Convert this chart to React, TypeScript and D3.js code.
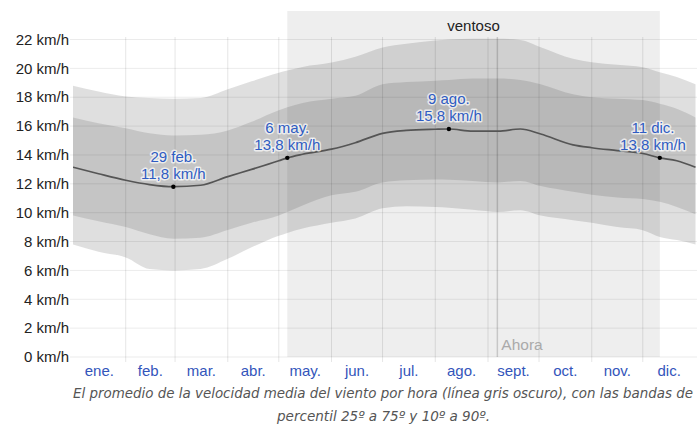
import React from "react";
import * as d3 from "d3";

// Day-of-year (leap year) sample points
const days = [0, 15, 31, 45, 59, 75, 91, 105, 121, 126, 135, 152, 166, 182, 196, 213, 221, 235, 250, 263, 275, 294, 305, 320, 335, 345, 355, 366];
const p10 = [7.8, 7.3, 6.9, 6.1, 6.0, 6.1, 6.8, 7.6, 8.4, 8.6, 8.9, 9.3, 9.6, 10.3, 10.45, 10.4, 10.35, 10.2, 10.05, 10.17, 9.8, 9.48, 9.3, 9.0, 8.79, 8.32, 8.1, 7.8];
const p25 = [9.8, 9.4, 9.0, 8.5, 8.2, 8.27, 8.8, 9.3, 9.8, 10.05, 10.5, 11.2, 11.45, 12.1, 12.25, 12.3, 12.28, 12.2, 12.1, 12.2, 11.85, 11.45, 11.25, 11.05, 10.95, 10.75, 10.4, 9.9];
const meanSpeed = [13.15, 12.7, 12.25, 11.95, 11.8, 11.9, 12.5, 13.0, 13.6, 13.8, 14.05, 14.4, 14.85, 15.5, 15.7, 15.78, 15.8, 15.65, 15.65, 15.8, 15.45, 14.7, 14.5, 14.3, 14.1, 13.8, 13.6, 13.15];
const p75 = [16.6, 16.2, 15.85, 15.5, 15.35, 15.4, 15.7, 16.3, 17.1, 17.3, 17.6, 17.9, 18.1, 18.9, 19.05, 19.15, 19.2, 19.3, 19.3, 19.2, 18.9, 18.2, 18.0, 17.9, 17.8, 17.55, 17.2, 16.6];
const p90 = [18.8, 18.4, 18.05, 17.95, 17.9, 17.95, 18.55, 19.1, 19.7, 19.85, 20.1, 20.4, 20.8, 21.45, 21.7, 21.93, 22.0, 22.05, 22.05, 21.97, 21.47, 20.67, 20.43, 20.25, 20.08, 19.73, 19.4, 18.9];

const monthStarts = [0, 31, 60, 91, 121, 152, 182, 213, 244, 274, 305, 335, 366];
const monthLabels = ["ene.", "feb.", "mar.", "abr.", "may.", "jun.", "jul.", "ago.", "sept.", "oct.", "nov.", "dic."];
const yTicks = [0, 2, 4, 6, 8, 10, 12, 14, 16, 18, 20, 22];

const windyStart = 126;
const windyEnd = 345;
const windyLabel = "ventoso";
const nowDay = 249.5;
const nowLabel = "Ahora";

const annDays = [59, 126, 221, 345];
const annDates = ["29 feb.", "6 may.", "9 ago.", "11 dic."];
const annValues = [11.8, 13.8, 15.8, 13.8];

const captionLines = [
  "El promedio de la velocidad media del viento por hora (línea gris oscuro), con las bandas de",
  "percentil 25º a 75º y 10º a 90º.",
];

const W = 697;
const H = 428;
const left = 73;
const right = 695.5;
const top = 39.5;
const bottom = 357;

export default function App() {
  const x = d3.scaleLinear().domain([0, 366]).range([left, right]);
  const y = d3.scaleLinear().domain([0, 22]).range([bottom, top]);

  const rows = days.map((d, i) => ({ d, p10: p10[i], p25: p25[i], m: meanSpeed[i], p75: p75[i], p90: p90[i] }));
  const curve = d3.curveMonotoneX;
  const outer = d3.area<any>().x((r) => x(r.d)).y0((r) => y(r.p10)).y1((r) => y(r.p90)).curve(curve)(rows) || "";
  const inner = d3.area<any>().x((r) => x(r.d)).y0((r) => y(r.p25)).y1((r) => y(r.p75)).curve(curve)(rows) || "";
  const line = d3.line<any>().x((r) => x(r.d)).y((r) => y(r.m)).curve(curve)(rows) || "";

  const axisFont = "Arial, 'Liberation Sans', sans-serif";
  const blue = "#2f5cc2";
  const fs = 15;
  const fmt = (v: number) => v.toFixed(1).replace(".", ",") + " km/h";

  return (
    <svg width={W} height={H} style={{ position: "absolute", left: 0, top: 0, display: "block", background: "#fff" }}>
      <defs>
        <clipPath id="plot">
          <rect x={left} y={0} width={W - left} height={bottom} />
        </clipPath>
      </defs>
      {/* windy period */}
      <rect x={x(windyStart)} y={11} width={x(windyEnd) - x(windyStart)} height={bottom - 11} fill="#eeeeee" />
      <text x={(x(windyStart) + x(windyEnd)) / 2} y={31} textAnchor="middle" fontFamily={axisFont} fontSize={fs} fill="#222">
        {windyLabel}
      </text>

      <g clipPath="url(#plot)">
        <path d={outer} fill="rgba(0,0,0,0.125)" />
        <path d={inner} fill="rgba(0,0,0,0.115)" />
      </g>

      {/* grid */}
      {yTicks.map((t) => (
        <line key={"h" + t} x1={70} x2={W} y1={y(t)} y2={y(t)} stroke="rgba(0,0,0,0.08)" strokeWidth={1} />
      ))}
      {monthStarts.slice(1, 12).map((m) => (
        <line key={"v" + m} x1={x(m)} x2={x(m)} y1={37} y2={362} stroke="rgba(0,0,0,0.1)" strokeWidth={1} />
      ))}

      {/* now line */}
      <line x1={x(nowDay)} x2={x(nowDay)} y1={37} y2={bottom} stroke="rgba(0,0,0,0.16)" strokeWidth={1.5} />
      <text x={x(nowDay) + 4} y={350} fontFamily={axisFont} fontSize={15.5} fill="#aaaaaa">
        {nowLabel}
      </text>

      {/* mean line */}
      <path d={line} fill="none" stroke="#555" strokeWidth={1.7} clipPath="url(#plot)" />

      {/* y labels */}
      {yTicks.map((t) => (
        <text key={"yl" + t} x={69} y={y(t)} dy="0.35em" textAnchor="end" fontFamily={axisFont} fontSize={fs} fill="#222">
          {t} km/h
        </text>
      ))}

      {/* month labels */}
      {monthLabels.map((m, i) => (
        <text key={m} x={x((monthStarts[i] + monthStarts[i + 1]) / 2)} y={376} textAnchor="middle" fontFamily={axisFont} fontSize={fs} fill="#3355bb">
          {m}
        </text>
      ))}

      {/* annotations */}
      {annDays.map((d, i) => {
        const px = x(d);
        const py = y(annValues[i]);
        const cx = Math.min(px, 687 - 34);
        return (
          <g key={"a" + i}>
            <circle cx={px} cy={py} r={2.2} fill="#000" />
            <text x={cx} y={py - 24.5} textAnchor="middle" fontFamily={axisFont} fontSize={fs} fill={blue} stroke="#fff" strokeWidth={3} strokeOpacity={0.7} paintOrder="stroke" strokeLinejoin="round">
              {annDates[i]}
            </text>
            <text x={cx} y={py - 7.5} textAnchor="middle" fontFamily={axisFont} fontSize={fs} fill={blue} stroke="#fff" strokeWidth={3} strokeOpacity={0.7} paintOrder="stroke" strokeLinejoin="round">
              {fmt(annValues[i])}
            </text>
          </g>
        );
      })}

      {/* caption */}
      <text x={383} y={398} textAnchor="middle" fontFamily="'Liberation Sans Narrow', 'DejaVu Sans Condensed', sans-serif" fontStyle="italic" fontSize={14.5} fill="#555" textLength={620} lengthAdjust="spacingAndGlyphs">
        {captionLines[0]}
      </text>
      <text x={383.5} y={421} textAnchor="middle" fontFamily="'Liberation Sans Narrow', 'DejaVu Sans Condensed', sans-serif" fontStyle="italic" fontSize={14.5} fill="#555" textLength={213} lengthAdjust="spacingAndGlyphs">
        {captionLines[1]}
      </text>
    </svg>
  );
}
